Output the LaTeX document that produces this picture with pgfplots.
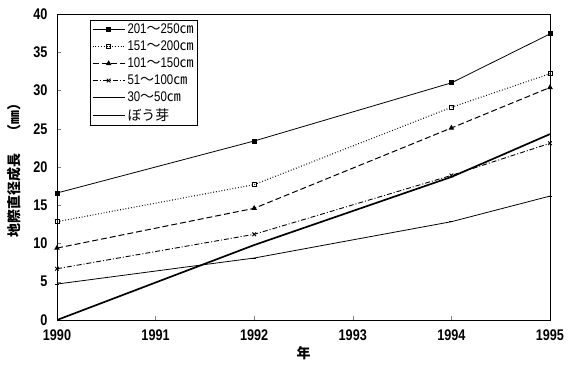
\documentclass[border=0pt]{standalone}
\usepackage{pgfplots}
\pgfplotsset{compat=1.18}
\usetikzlibrary{calc}
\usepackage{fontspec}
\setmainfont{Liberation Sans}
\newfontfamily\cjk{Noto Sans CJK JP}
\newfontfamily\num{Liberation Sans}[FakeStretch=0.82]
\newcommand{\lab}[2]{{\num #1}{\cjk ～}{\num #2}{\cjk ㎝}}
\begin{document}
\begin{tikzpicture}
\begin{axis}[
  name=ax,
  scale only axis, width=493bp, height=306bp,
  xmin=1990, xmax=1995, ymin=0, ymax=40,
  xtick={1990,...,1995}, ytick={0,5,...,40},
  /pgf/number format/assume math mode=true,
  x tick label style={/pgf/number format/1000 sep={}, yshift=-6bp},
  y tick label style={xshift=-6bp},
  tick label style={font=\num\bfseries\fontsize{15.5}{16}\selectfont},
  tick align=inside, xtick pos=bottom, ytick pos=left,
  major tick length=4pt,
  axis line style={line width=0.9pt},
  xlabel={年}, xlabel style={font=\cjk\bfseries\fontsize{14}{15}\selectfont, yshift=1bp},
  ylabel={地際直径成長\hspace{1.1em}（㎜）}, ylabel style={font=\cjk\bfseries\fontsize{14}{15}\selectfont, yshift=6bp},
  legend style={at={(rel axis cs:0.067,0.98)}, anchor=north west, font=\fontsize{14}{15}\selectfont, draw=black, line width=0.6pt, inner sep=1.5pt, row sep=1.8pt},
  legend cell align=left,
  legend image code/.code={\draw[mark repeat=2,mark phase=2,#1] plot coordinates {(0bp,0bp) (16bp,0bp) (32bp,0bp)};},
  every axis plot/.append style={black, line width=0.8pt},
]
\addplot[mark=square*, mark size=2pt] coordinates {(1990,16.6) (1992,23.4) (1994,31.0) (1995,37.4)};
\addlegendentry{\lab{201}{250}}
\addplot[dotted, line width=1.1pt, mark=square, mark options={solid, line width=0.7pt, fill=white}, mark size=2pt] coordinates {(1990,12.85) (1992,17.7) (1994,27.8) (1995,32.2)};
\addlegendentry{\lab{151}{200}}
\addplot[dash pattern=on 6pt off 3pt, line width=1pt, mark=triangle*, mark options={solid}, mark size=2.3pt] coordinates {(1990,9.4) (1992,14.6) (1994,25.1) (1995,30.4)};
\addlegendentry{\lab{101}{150}}
\addplot[dash pattern=on 5pt off 2pt on 1pt off 2pt, line width=0.9pt, mark=x, mark options={solid}, mark size=2.6pt] coordinates {(1990,6.7) (1992,11.2) (1994,18.9) (1995,23.1)};
\addlegendentry{\lab{51}{100}}
\addplot[mark=-, mark size=2pt] coordinates {(1990,4.7) (1992,8.1) (1994,12.85) (1995,16.2)};
\addlegendentry{\lab{30}{50}}
\addplot[line width=1.7pt] coordinates {(1990,0) (1992,9.8) (1994,18.7) (1995,24.3)};
\addlegendentry{{\cjk ぼう芽}}
\end{axis}
\path (ax.south west) ++(-57bp,-55bp) rectangle ($(ax.north east)+(28bp,14bp)$);
\end{tikzpicture}
\end{document}
